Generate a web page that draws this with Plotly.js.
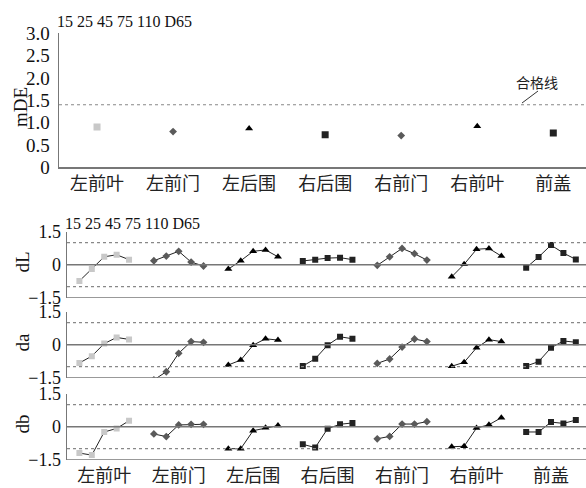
<!DOCTYPE html>
<html>
<head>
<meta charset="utf-8">
<script src="https://cdn.plot.ly/plotly-3.0.1.min.js"></script>
<style>html,body{margin:0;padding:0;background:#fff;}#chart{width:586px;height:488px;}</style>
</head>
<body>
<div id="chart"></div>
<script>
const categories = ['左前叶','左前门','左后围','右后围','右前门','右前叶','前盖'];
const angleHeader = '15 25 45 75 110 D65';
const mDE = [0.90, 0.80, 0.87, 0.73, 0.71, 0.92, 0.77];
const passLine = 1.4;
const passLabel = '合格线';
// per category, angles 15,25,45,75,110
const dL = [
  [-0.74, -0.20, 0.36, 0.45, 0.23],
  [0.18, 0.39, 0.61, 0.12, -0.06],
  [-0.20, 0.18, 0.61, 0.67, 0.36],
  [0.17, 0.23, 0.30, 0.32, 0.23],
  [-0.03, 0.36, 0.74, 0.50, 0.21],
  [-0.55, 0.02, 0.70, 0.74, 0.39],
  [-0.14, 0.35, 0.89, 0.53, 0.24]
];
const da = [
  [-0.83, -0.52, 0.05, 0.33, 0.24],
  [-1.60, -1.23, -0.39, 0.14, 0.11],
  [-0.92, -0.70, -0.02, 0.27, 0.21],
  [-0.97, -0.64, -0.02, 0.36, 0.27],
  [-0.85, -0.65, -0.11, 0.26, 0.14],
  [-0.98, -0.80, -0.14, 0.23, 0.14],
  [-0.97, -0.77, -0.14, 0.17, 0.11]
];
const db = [
  [-1.20, -1.29, -0.24, -0.08, 0.27],
  [-0.33, -0.45, 0.08, 0.11, 0.11],
  [-1.00, -1.00, -0.18, -0.05, 0.05],
  [-0.80, -0.95, -0.09, 0.11, 0.17],
  [-0.55, -0.44, 0.12, 0.12, 0.23],
  [-0.91, -0.89, -0.06, 0.09, 0.41],
  [-0.24, -0.24, 0.21, 0.15, 0.30]
];

const styles = [
  {symbol:'square', color:'#c8c8c8', size:6, topSize:7},
  {symbol:'diamond', color:'#5a5a5a', size:6, topSize:6},
  {symbol:'triangle-up', color:'#000', size:7, topSize:7},
  {symbol:'square', color:'#222', size:6, topSize:7},
  {symbol:'diamond', color:'#5a5a5a', size:6, topSize:6},
  {symbol:'triangle-up', color:'#000', size:7, topSize:7},
  {symbol:'square', color:'#222', size:6, topSize:7}
];

const serif = '"Liberation Serif", "Noto Sans CJK SC", serif';
const cjk = '"Noto Sans CJK SC", sans-serif';
const H = 488, W = 586;
const py = p => 1 - p / H;
const px = p => p / W;

const traces = [];
categories.forEach((c, i) => {
  traces.push({
    type:'scatter', mode:'markers', x:[i], y:[mDE[i]], xaxis:'x', yaxis:'y',
    marker:{symbol:styles[i].symbol, color:styles[i].color, size:styles[i].topSize},
    showlegend:false, hoverinfo:'skip'
  });
});
const panels = [[dL,'y2'],[da,'y3'],[db,'y4']];
panels.forEach(([arr, ya]) => {
  arr.forEach((vals, i) => {
    traces.push({
      type:'scatter', mode:'lines+markers',
      x: vals.map((v, j) => i + (j - 2) / 6), y: vals,
      xaxis:'x2', yaxis:ya,
      line:{color:'#222', width:1},
      marker:{symbol:styles[i].symbol, color:styles[i].color, size:styles[i].size},
      showlegend:false, hoverinfo:'skip'
    });
  });
});

const topDom = [py(167.3), py(33.3)];
const dLDom = [py(297.7), py(231.7)];
const daDom = [py(377.7), py(311.7)];
const dbDom = [py(459.7), py(393.7)];

const lowerY = dom => ({
  domain: dom, range:[-1.5, 1.5], tickvals:[-1.5, 0, 1.5], ticktext:['−1.5','0','1.5'],
  showgrid:false, zeroline:false, showline:true, linecolor:'#777', linewidth:1.5,
  ticks:'inside', ticklen:4, tickcolor:'#777', tickwidth:1.5,
  tickfont:{family:serif, size:18, color:'#111'}, ticklabelstandoff:1,
  anchor:'x2'
});

const shapes = [];
shapes.push({type:'line', xref:'x domain', yref:'y', x0:0, x1:1, y0:passLine, y1:passLine,
  line:{color:'#888', width:1.2, dash:'3px,3px'}});
shapes.push({type:'line', xref:'paper', yref:'paper', x0:px(522), y0:py(103), x1:px(538), y1:py(91),
  line:{color:'#333', width:1}});
['y2','y3','y4'].forEach(ya => {
  [1, -1].forEach(v => shapes.push({type:'line', xref:'x2 domain', yref:ya, x0:0, x1:1, y0:v, y1:v,
    line:{color:'#888', width:1.2, dash:'3px,3px'}}));
  shapes.push({type:'line', xref:'x2 domain', yref:ya, x0:0, x1:1, y0:0, y1:0,
    line:{color:'#777', width:1.5}});
  shapes.push({type:'line', xref:'x2 domain', yref:ya, x0:0, x1:1, y0:-1.5, y1:-1.5,
    line:{color:'#777', width:1.5}});
});

const annotations = [
  {xref:'paper', yref:'paper', x:px(55), y:py(22), xanchor:'left', yanchor:'middle', showarrow:false,
   text:angleHeader, font:{family:serif, size:16, color:'#111'}},
  {xref:'paper', yref:'paper', x:px(63), y:py(223), xanchor:'left', yanchor:'middle', showarrow:false,
   text:angleHeader, font:{family:serif, size:16, color:'#111'}},
  {xref:'paper', yref:'paper', x:px(537), y:py(82), xanchor:'center', yanchor:'middle', showarrow:false,
   text:passLabel, font:{family:cjk, size:14, color:'#222'}},
  {xref:'paper', yref:'paper', x:px(21), y:py(107), textangle:-90, xanchor:'center', yanchor:'middle', showarrow:false,
   text:'mDE', font:{family:serif, size:19, color:'#111'}},
  {xref:'paper', yref:'y2', x:px(22), y:0.1, textangle:-90, xanchor:'center', yanchor:'middle', showarrow:false,
   text:'dL', font:{family:serif, size:19, color:'#111'}},
  {xref:'paper', yref:'y3', x:px(22), y:0.1, textangle:-90, xanchor:'center', yanchor:'middle', showarrow:false,
   text:'da', font:{family:serif, size:19, color:'#111'}},
  {xref:'paper', yref:'y4', x:px(22), y:0.1, textangle:-90, xanchor:'center', yanchor:'middle', showarrow:false,
   text:'db', font:{family:serif, size:19, color:'#111'}}
];

const layout = {
  width:W, height:H, margin:{l:0, r:0, t:0, b:0},
  paper_bgcolor:'#fff', plot_bgcolor:'rgba(0,0,0,0)',
  showlegend:false,
  xaxis:{domain:[px(59), 1], range:[-0.5, 6.43], tickvals:[0,1,2,3,4,5,6], ticktext:categories,
    showgrid:false, zeroline:false, showline:true, linecolor:'#777', linewidth:1.5, ticks:'',
    tickfont:{family:cjk, size:18, color:'#222'}, anchor:'y', ticklabelstandoff:0},
  yaxis:{domain:topDom, range:[0, 3.0], tickvals:[0,0.5,1,1.5,2,2.5,3], ticktext:['0','0.5','1.0','1.5','2.0','2.5','3.0'],
    showgrid:false, zeroline:false, showline:true, linecolor:'#777', linewidth:1.5, ticks:'',
    tickfont:{family:serif, size:19, color:'#111'}, anchor:'x', ticklabelstandoff:4},
  xaxis2:{domain:[px(67), 1], range:[-0.5, 6.47], tickvals:[0,1,2,3,4,5,6], ticktext:categories,
    showgrid:false, zeroline:false, showline:false, ticks:'',
    tickfont:{family:cjk, size:18, color:'#222'}, anchor:'y4', ticklabelstandoff:3},
  yaxis2:lowerY(dLDom),
  yaxis3:lowerY(daDom),
  yaxis4:lowerY(dbDom),
  shapes:shapes,
  annotations:annotations
};

Plotly.newPlot('chart', traces, layout, {displayModeBar:false, staticPlot:true});
</script>
</body>
</html>
